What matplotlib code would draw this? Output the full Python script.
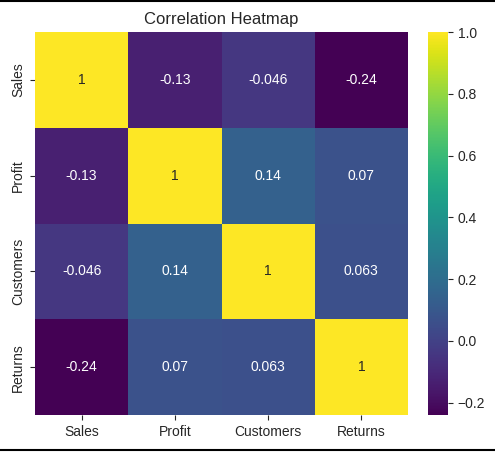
import numpy as np
import matplotlib
matplotlib.use("Agg")
import matplotlib.pyplot as plt
import seaborn as sns
from matplotlib.lines import Line2D

labels = ["Sales", "Profit", "Customers", "Returns"]
corr = np.array([
    [1.0, -0.13, -0.046, -0.24],
    [-0.13, 1.0, 0.14, 0.07],
    [-0.046, 0.14, 1.0, 0.063],
    [-0.24, 0.07, 0.063, 1.0],
])

sns.set_style("ticks")
plt.rcParams['font.family'] = ['Liberation Sans', 'DejaVu Sans']

fig = plt.figure(figsize=(4.95, 4.53), dpi=100)
ax = fig.add_axes([35 / 495, 38 / 453, 373 / 495, 383 / 453])
cax = fig.add_axes([428 / 495, 38 / 453, 20 / 495, 383 / 453])
sns.heatmap(corr, annot=True, cmap="viridis", xticklabels=labels, yticklabels=labels,
            ax=ax, cbar_ax=cax, annot_kws={"size": 10})
ax.set_title("Correlation Heatmap", fontsize=12)
ax.tick_params(labelsize=10)
cax.tick_params(labelsize=10)
cax.set_yticks([-0.2, 0.0, 0.2, 0.4, 0.6, 0.8, 1.0])

# thin frame lines at the top and bottom of the picture
fig.add_artist(Line2D([0, 1], [0.998, 0.998], color="black", lw=1.5))
fig.add_artist(Line2D([0, 1], [0.006, 0.006], color="black", lw=1.5))

fig.savefig("out.png", dpi=100)
